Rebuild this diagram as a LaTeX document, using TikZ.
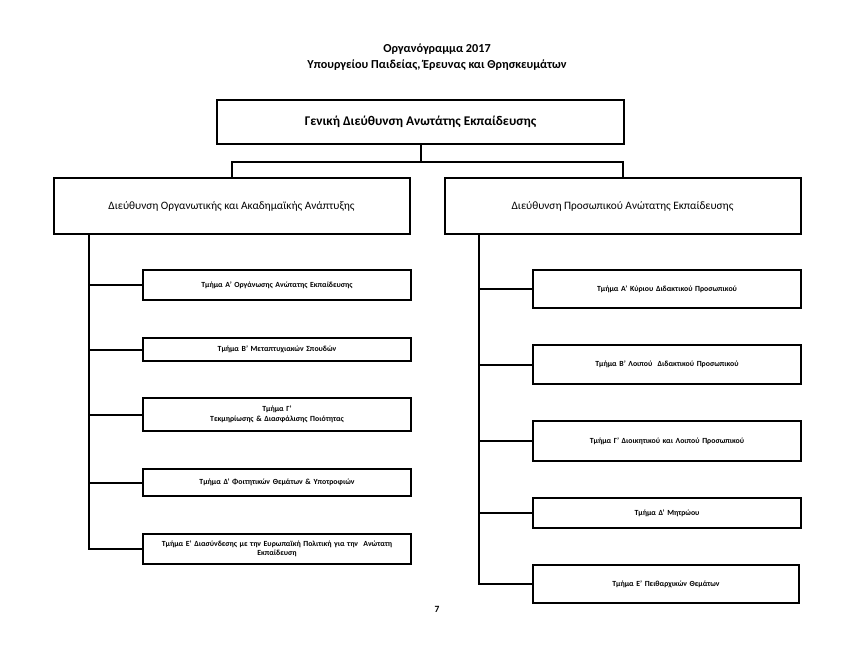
\documentclass[tikz,border=0pt]{standalone}
\usepackage{fontspec}
\setmainfont{Carlito}
\usetikzlibrary{positioning}

\begin{document}
\begin{tikzpicture}[
  x=1pt, y=1pt,
  node distance=36pt,
  head/.style={draw, line width=2pt, minimum width=407pt, minimum height=44pt,
               font=\fontsize{13.3}{15}\selectfont\bfseries},
  dir/.style={draw, line width=2pt, minimum width=356pt, minimum height=56pt,
              font=\fontsize{11.3}{13}\selectfont},
  sec/.style={draw, line width=2pt, minimum width=268pt, text width=262pt,
              align=center, inner sep=2pt, font=\fontsize{7.8}{9.5}\selectfont\bfseries},
  link/.style={line width=2pt}
]
\useasboundingbox (0,0) rectangle (844,-646);
\node[align=center, font=\fontsize{12.2}{16}\selectfont\bfseries] (title) at (437,-57)
  {Οργανόγραμμα 2017\\Υπουργείου Παιδείας, Έρευνας και Θρησκευμάτων};
\node[head] (gen) at (420.5,-122) {Γενική Διεύθυνση Ανωτάτης Εκπαίδευσης};
\node[dir] (org)  at (231.5,-206) {Διεύθυνση Οργανωτικής και Ακαδημαϊκής Ανάπτυξης};
\node[dir] (pers) at (622.5,-206) {Διεύθυνση Προσωπικού Ανώτατης Εκπαίδευσης};

\node[sec, minimum height=30pt] (orgA) at (277,-285) {Τμήμα Α’ Οργάνωσης Ανώτατης Εκπαίδευσης};
\node[sec, minimum height=23pt, below=of orgA] (orgB) {Τμήμα Β’ Μεταπτυχιακών Σπουδών};
\node[sec, minimum height=33pt, below=35pt of orgB] (orgC) {Τμήμα Γ’\\Τεκμηρίωσης \& Διασφάλισης Ποιότητας};
\node[sec, minimum height=27pt, below=of orgC] (orgD) {Τμήμα Δ’ Φοιτητικών Θεμάτων \& Υποτροφιών};
\node[sec, minimum height=30pt, below=of orgD] (orgE) {Τμήμα Ε’ Διασύνδεσης με την Ευρωπαϊκή Πολιτική για την\ \ Ανώτατη\\Εκπαίδευση};

\node[sec, minimum height=38pt] (persA) at (667,-289) {Τμήμα Α’ Κύριου Διδακτικού Προσωπικού};
\node[sec, minimum height=39pt, below=35pt of persA] (persB) {Τμήμα Β’ Λοιπού\ \ Διδακτικού Προσωπικού};
\node[sec, minimum height=40pt, below=35pt of persB] (persC) {Τμήμα Γ’ Διοικητικού και Λοιπού Προσωπικού};
\node[sec, minimum height=30pt, below=35pt of persC] (persD) {Τμήμα Δ’ Μητρώου};
\node[sec, minimum height=38pt, minimum width=266pt, below=35pt of persD, xshift=-1pt] (persE) {Τμήμα Ε’ Πειθαρχικών Θεμάτων};

\node[font=\fontsize{9.5}{10}\selectfont\bfseries] (page) at (437,-609) {7};

\coordinate[below=16.5pt of gen.south] (bus);
\draw[link] (gen.south) -- (bus);
\draw[link] (org.north) |- (bus) -| (pers.north);

\coordinate (orgStem)  at ([xshift=36pt]org.south west);
\coordinate (persStem) at ([xshift=35.5pt]pers.south west);
\foreach \s in {orgA,orgB,orgC,orgD,orgE}
  \draw[link] (orgStem) |- (\s.west);
\foreach \s in {persA,persB,persC,persD,persE}
  \draw[link] (persStem) |- (\s.west);
\end{tikzpicture}
\end{document}
